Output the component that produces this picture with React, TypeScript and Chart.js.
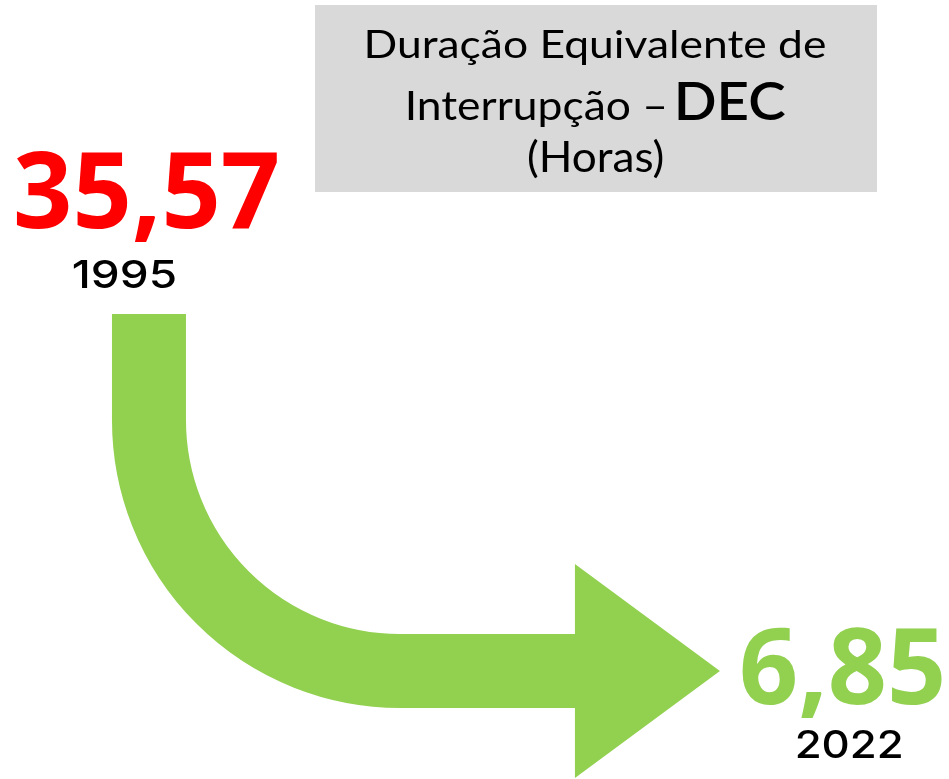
import React, { useEffect, useRef } from "react";
import { Chart, registerables } from "chart.js";

Chart.register(...registerables);

// ---- data ----
const years = [1995, 2022];
const decHours = [35.57, 6.85];
const valueColors = ["#FF0000", "#92D050"];
const titleLines = ["Duração Equivalente de", "Interrupção – ", "DEC", "(Horas)"];

const ARROW_GREEN = "#92D050";
const BOX_GRAY = "#D9D9D9";

function fmt(v: number) {
  return v.toFixed(2).replace(".", ",");
}

function drawFitted(
  ctx: CanvasRenderingContext2D,
  text: string,
  family: string,
  weight: string | number,
  cap: number,
  left: number,
  baseline: number,
  width: number,
  color: string
) {
  ctx.save();
  ctx.textAlign = "left";
  ctx.textBaseline = "alphabetic";
  ctx.font = `${weight} 100px ${family}`;
  const capRef = ctx.measureText("H").actualBoundingBoxAscent || 72;
  const size = (100 * cap) / capRef;
  ctx.font = `${weight} ${size}px ${family}`;
  const m = ctx.measureText(text);
  const inkW = m.actualBoundingBoxLeft + m.actualBoundingBoxRight;
  const sx = width / inkW;
  ctx.translate(left, baseline);
  ctx.scale(sx, 1);
  ctx.fillStyle = color;
  ctx.fillText(text, m.actualBoundingBoxLeft, 0);
  ctx.restore();
}

const infographic = {
  id: "infographic",
  beforeDatasetsDraw(chart: any) {
    const ctx: CanvasRenderingContext2D = chart.ctx;
    const meta = chart.getDatasetMeta(0);
    const p1 = meta.data[0];
    const p2 = meta.data[1];

    // title box
    ctx.save();
    ctx.fillStyle = BOX_GRAY;
    ctx.fillRect(315, 5, 562, 187);
    ctx.restore();
    const tf = "Lato, 'Open Sans', sans-serif";
    drawFitted(ctx, titleLines[0], tf, 400, 28, 367, 58, 458, "#000");
    drawFitted(ctx, titleLines[1].trim(), tf, 400, 30, 408, 120, 257, "#000");
    drawFitted(ctx, titleLines[2], tf, 600, 38, 678, 120, 107, "#000");
    drawFitted(ctx, titleLines[3], tf, 400, 31, 528, 172, 135, "#000");

    // arrow
    const cx = p1.x + 2;
    const topY = p1.y + 124.5;
    const hy = p2.y + 5.5;
    const tipX = p2.x - 122;
    const baseX = tipX - 145;
    const r = 251;
    const arcCx = cx + r;
    const arcCy = hy - r;
    ctx.save();
    ctx.strokeStyle = ARROW_GREEN;
    ctx.lineWidth = 74;
    ctx.lineCap = "butt";
    ctx.lineJoin = "miter";
    ctx.beginPath();
    ctx.moveTo(cx, topY);
    ctx.lineTo(cx, arcCy);
    ctx.arc(arcCx, arcCy, r, Math.PI, Math.PI / 2, true);
    ctx.lineTo(baseX + 2, hy);
    ctx.stroke();
    ctx.fillStyle = ARROW_GREEN;
    ctx.beginPath();
    ctx.moveTo(baseX, hy - 107);
    ctx.lineTo(tipX, hy);
    ctx.lineTo(baseX, hy + 107);
    ctx.closePath();
    ctx.fill();
    ctx.restore();
  },
  afterDatasetsDraw(chart: any) {
    const ctx: CanvasRenderingContext2D = chart.ctx;
    const meta = chart.getDatasetMeta(0);
    const nf = "'Open Sans', sans-serif";
    const yf = "Inter, 'Liberation Sans', Arial, sans-serif";
    const numW = [260, 200];
    const yearCfg = [
      { dx: -23, dy: 98.5, w: 102 },
      { dx: 7.5, dy: 93, w: 105 },
    ];
    meta.data.forEach((pt: any, i: number) => {
      const w = numW[i];
      drawFitted(ctx, fmt(decHours[i]), nf, 700, 76, pt.x - w / 2, pt.y + 38.5, w, valueColors[i]);
      const yc = yearCfg[i];
      drawFitted(ctx, String(years[i]), yf, 500, 28, pt.x + yc.dx - yc.w / 2, pt.y + yc.dy, yc.w, "#000");
    });
  },
};

export default function App() {
  const ref = useRef<HTMLCanvasElement | null>(null);
  useEffect(() => {
    if (!ref.current) return;
    const chart = new Chart(ref.current, {
      type: "scatter",
      data: {
        datasets: [
          {
            label: "DEC (Horas)",
            data: years.map((y, i) => ({ x: y, y: decHours[i] })),
            pointRadius: 0,
            showLine: false,
          },
        ],
      },
      options: {
        responsive: false,
        animation: false,
        layout: { padding: 0 },
        plugins: { legend: { display: false }, tooltip: { enabled: false } },
        scales: {
          x: { type: "linear", display: false, min: 1989.29, max: 2026.16 },
          y: { type: "linear", display: false, min: 0, max: 47 },
        },
      },
      plugins: [infographic],
    });
    return () => chart.destroy();
  }, []);
  return (
    <div style={{ position: "absolute", left: 0, top: 0, width: 949, height: 779, background: "#fff" }}>
      <canvas ref={ref} width={949} height={779} style={{ display: "block" }} />
    </div>
  );
}
